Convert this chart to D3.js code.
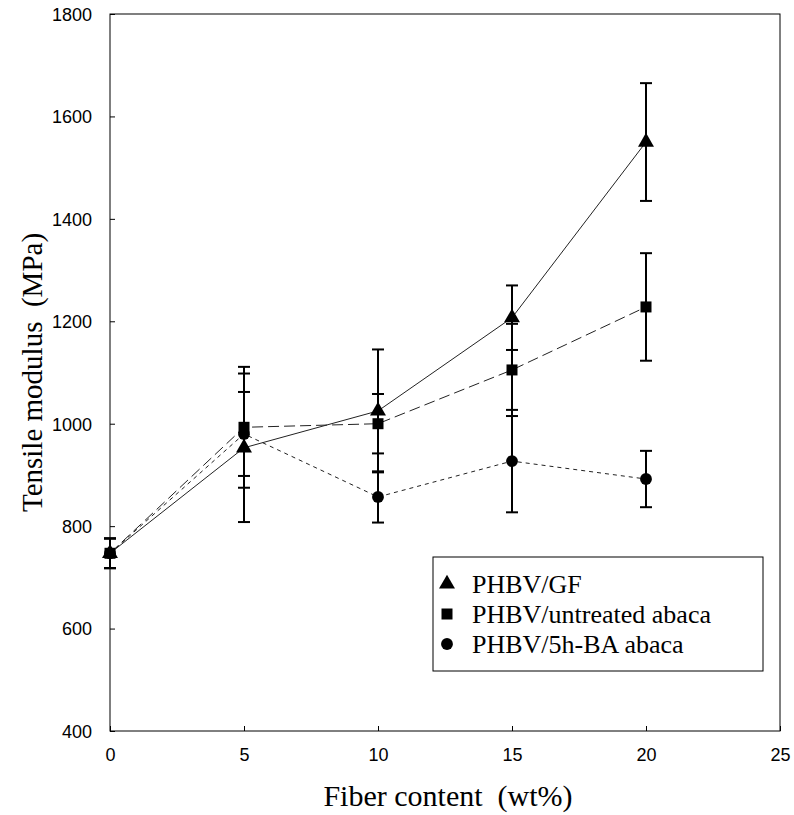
<!DOCTYPE html>
<html>
<head>
<meta charset="utf-8">
<script src="https://cdn.jsdelivr.net/npm/d3@7"></script>
<style>
  body { margin: 0; background: #fff; }
  svg { display: block; }
</style>
</head>
<body>
<div id="chart"></div>
<script>
// fiber content (wt%)
const fiber = [0, 5, 10, 15, 20];

const gfModulus = [747, 953, 1025, 1207, 1550];
const gfErr = [29, 145, 120, 63, 115];

const untreatedModulus = [747, 993, 1000, 1105, 1228];
const untreatedErr = [29, 118, 58, 90, 105];

const baModulus = [747, 980, 857, 927, 892];
const baErr = [29, 82, 50, 100, 55];

const xTicks = [0, 5, 10, 15, 20, 25];
const yTicks = [400, 600, 800, 1000, 1200, 1400, 1600, 1800];

const legendNames = ["PHBV/GF", "PHBV/untreated abaca", "PHBV/5h-BA abaca"];

function graph(id) {
    let width = 794, height = 815;
    let margin = { left: 110, right: 14, top: 14, bottom: 84 };

    let svg = d3.select(id).append("svg")
        .attr("width", width)
        .attr("height", height);

    let x = d3.scaleLinear().domain([0, 25]).range([margin.left, width - margin.right]);
    let y = d3.scaleLinear().domain([400, 1800]).range([height - margin.bottom, margin.top]);

    // plot frame
    svg.append("rect")
        .attr("x", x(0)).attr("y", y(1800))
        .attr("width", x(25) - x(0)).attr("height", y(400) - y(1800))
        .attr("fill", "none").attr("stroke", "#000").attr("stroke-width", 1);

    // axes, ticks pointing inward
    let xAxis = svg.append("g")
        .attr("transform", `translate(0,${y(400)})`)
        .call(d3.axisBottom(x).tickValues(xTicks).tickFormat(d3.format("d"))
            .tickSizeInner(-5).tickSizeOuter(0).tickPadding(17));
    let yAxis = svg.append("g")
        .attr("transform", `translate(${x(0)},0)`)
        .call(d3.axisLeft(y).tickValues(yTicks).tickFormat(d3.format("d"))
            .tickSizeInner(-5).tickSizeOuter(0).tickPadding(18));

    [xAxis, yAxis].forEach((g) => {
        g.select(".domain").remove();
        g.attr("font-size", null).attr("font-family", null);
        g.selectAll("text")
            .style("font-family", "'Liberation Sans Narrow', 'Liberation Sans', Arial, sans-serif")
            .style("font-size", "18px")
            .attr("fill", "#000");
    });
    yAxis.selectAll("text").attr("dy", "0.35em");

    // axis titles
    svg.append("text")
        .attr("x", (x(0) + x(25)) / 2 + 3)
        .attr("y", 806)
        .attr("text-anchor", "middle")
        .style("font-family", "'Liberation Serif', 'Times New Roman', serif")
        .style("font-size", "30px")
        .attr("xml:space", "preserve")
        .text("Fiber content  (wt%)");

    svg.append("text")
        .attr("transform", `translate(42,${(y(400) + y(1800)) / 2}) rotate(-90)`)
        .attr("text-anchor", "middle")
        .style("font-family", "'Liberation Serif', 'Times New Roman', serif")
        .style("font-size", "29px")
        .attr("xml:space", "preserve")
        .text("Tensile modulus  (MPa)");

    let series = [
        { vals: gfModulus, err: gfErr, dash: null, symbol: d3.symbolTriangle, size: 110 },
        { vals: untreatedModulus, err: untreatedErr, dash: "11,5", symbol: d3.symbolSquare, size: 121 },
        { vals: baModulus, err: baErr, dash: "4,4", symbol: d3.symbolCircle, size: 110 }
    ];

    let line = d3.line().x((d) => x(d[0])).y((d) => y(d[1]));

    // lines first
    series.forEach((s) => {
        svg.append("path")
            .datum(fiber.map((f, i) => [f, s.vals[i]]))
            .attr("d", line)
            .attr("fill", "none")
            .attr("stroke", "#222")
            .attr("stroke-width", 1)
            .attr("stroke-dasharray", s.dash);
    });

    // error bars
    series.forEach((s) => {
        let g = svg.append("g");
        fiber.forEach((f, i) => {
            let lo = y(s.vals[i] - s.err[i]), hi = y(s.vals[i] + s.err[i]);
            g.append("line")
                .attr("x1", x(f)).attr("x2", x(f))
                .attr("y1", lo).attr("y2", hi)
                .attr("stroke", "#000").attr("stroke-width", 2);
            [lo, hi].forEach((v) => {
                g.append("line")
                    .attr("x1", x(f) - 6).attr("x2", x(f) + 6)
                    .attr("y1", v).attr("y2", v)
                    .attr("stroke", "#000").attr("stroke-width", 2);
            });
        });
    });

    // markers
    series.forEach((s) => {
        svg.append("g").selectAll("path")
            .data(fiber.map((f, i) => [f, s.vals[i]]))
            .enter()
            .append("path")
            .attr("d", d3.symbol().type(s.symbol).size(s.size))
            .attr("transform", (d) => `translate(${x(d[0])},${y(d[1])})`)
            .attr("fill", "#000");
    });

    // legend
    let lg = svg.append("g").attr("transform", "translate(433,557)");
    lg.append("rect")
        .attr("width", 330).attr("height", 114)
        .attr("fill", "#fff").attr("stroke", "#000").attr("stroke-width", 1);
    legendNames.forEach((name, i) => {
        let cy = 27 + i * 30;
        lg.append("path")
            .attr("d", d3.symbol().type(series[i].symbol).size(series[i].size))
            .attr("transform", `translate(14,${cy})`)
            .attr("fill", "#000");
        lg.append("text")
            .attr("x", 39).attr("y", cy)
            .attr("dy", "0.35em")
            .style("font-family", "'Liberation Serif', 'Times New Roman', serif")
            .style("font-size", "26px")
            .text(name);
    });
}

graph("#chart");
</script>
</body>
</html>
